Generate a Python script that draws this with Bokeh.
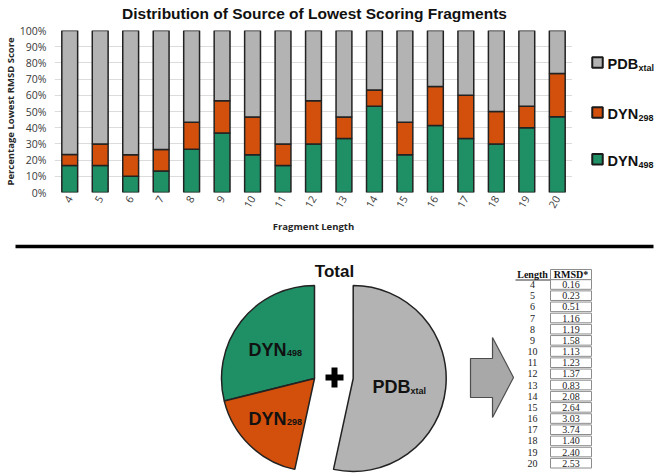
import math
from bokeh.plotting import figure
from bokeh.models import Range1d, FactorRange, FixedTicker, PrintfTickFormatter, ColumnDataSource
from bokeh.layouts import column, row
from bokeh.core.properties import value
from bokeh.embed import file_html
from bokeh.resources import INLINE

# ---------------- data ----------------
lengths = [str(i) for i in range(4, 21)]
dyn498 = [16.7, 16.7, 10.0, 13.3, 26.7, 36.7, 23.3, 16.7, 30.0, 33.3, 53.3, 23.3, 41.4, 33.3, 30.0, 40.0, 46.7]
dyn298 = [6.7, 13.3, 13.3, 13.3, 16.7, 20.0, 23.3, 13.3, 26.7, 13.3, 10.0, 20.0, 24.1, 26.7, 20.0, 13.3, 26.7]
pdb_xtal = [76.6, 70.0, 76.7, 73.4, 56.6, 43.3, 53.4, 70.0, 43.3, 53.4, 36.7, 56.7, 34.5, 40.0, 50.0, 46.7, 26.6]

legend_main = ["PDB", "DYN", "DYN"]
legend_sub = ["xtal", "298", "498"]

pie_main = ["DYN", "DYN", "PDB"]
pie_sub = ["498", "298", "xtal"]
pie_values = [28.9, 17.7, 53.4]  # DYN498, DYN298, PDBxtal (% of total)

table_length = [str(i) for i in range(4, 21)]
table_rmsd = [0.16, 0.23, 0.51, 1.16, 1.19, 1.58, 1.13, 1.23, 1.37, 0.83,
              2.08, 2.64, 3.03, 3.74, 1.40, 2.40, 2.53]

title_text = "Distribution of Source of Lowest Scoring Fragments"

GREEN = "#1f8f66"
ORANGE = "#d2500b"
GRAY = "#b3b3b3"
EDGE = "#222222"
SANS = value("Liberation Sans")
SERIF = value("Liberation Serif")

W = 664
TITLE_H = 22
MID_H = 216
W1 = 572
W_LEG = W - W1
BOT_H = 236
MID_BOTTOM = TITLE_H + MID_H


def blank(width, height, x0, x1, y0, y1):
    f = figure(width=width, height=height, x_range=Range1d(x0, x1), y_range=Range1d(y0, y1),
               output_backend="svg", toolbar_location=None, x_axis_type=None, y_axis_type=None,
               min_border=0, outline_line_color=None, frame_align=False)
    f.grid.visible = False
    return f


# ---------------- title strip ----------------
pt = blank(W, TITLE_H, 0, W, -TITLE_H, 0)
pt.text(x=[314], y=[-12.5], text=[title_text], text_font=SANS, text_font_style="bold",
        text_font_size="15.5px", text_color="#111111", text_align="center",
        text_baseline="alphabetic")

# ---------------- bar chart ----------------
src = ColumnDataSource(dict(length=lengths, dyn498=dyn498, dyn298=dyn298, pdb=pdb_xtal))
p1 = figure(width=W1, height=MID_H, x_range=FactorRange(*lengths, range_padding=0),
            y_range=Range1d(0, 100), output_backend="svg", toolbar_location=None,
            min_border_left=53, min_border_right=0, min_border_top=8, min_border_bottom=46,
            frame_align=False)
p1.vbar_stack(["dyn498", "dyn298", "pdb"], x="length", width=0.52, source=src,
              fill_color=[GREEN, ORANGE, GRAY], line_color=EDGE, line_width=1.5)
p1.outline_line_color = None
p1.xgrid.grid_line_color = None
p1.ygrid.grid_line_color = "#dcdcdc"
p1.yaxis.ticker = FixedTicker(ticks=list(range(0, 101, 10)))
p1.ygrid.ticker = FixedTicker(ticks=list(range(0, 101, 10)))
p1.yaxis.formatter = PrintfTickFormatter(format="%d%%")
for ax in (p1.xaxis[0], p1.yaxis[0]):
    ax.axis_line_color = None
    ax.major_tick_line_color = None
    ax.minor_tick_line_color = None
    ax.major_tick_out = 0
    ax.major_tick_in = 0
    ax.major_label_text_font = "Open Sans"
    ax.major_label_text_font_size = "10.5px"
    ax.major_label_text_color = "#3a3a3a"
    ax.axis_label_text_font = "Open Sans"
    ax.axis_label_text_font_style = "bold"
    ax.axis_label_text_font_size = "9.5px"
    ax.axis_label_text_color = "#262626"
p1.yaxis.axis_label = "Percentage Lowest RMSD Score"
p1.yaxis.major_label_standoff = 8
p1.yaxis.axis_label_standoff = 0
p1.xaxis.axis_label = "Fragment Length"
p1.xaxis.major_label_orientation = math.pi / 3
p1.xaxis.major_label_standoff = 4
p1.xaxis.axis_label_standoff = 6

# ---------------- legend panel ----------------
pl = blank(W_LEG, MID_H, W1, W, -MID_BOTTOM, -TITLE_H)
leg_y = [-62, -112, -158.7]
pl.rect(x=[597] * 3, y=leg_y, width=10.5, height=10.5,
        fill_color=[GRAY, ORANGE, GREEN], line_color="#1a1a1a", line_width=2)
pl.text(x=[607] * 3, y=[v - 1.5 for v in leg_y], text=legend_main, text_font=SANS,
        text_font_style="bold", text_font_size="14.5px", text_color="#111111",
        text_baseline="alphabetic", text_align="left")
pl.text(x=[638, 638, 638], y=[v - 5.5 for v in leg_y], text=legend_sub, text_font=SANS,
        text_font_style="bold", text_font_size="9px", text_color="#111111",
        text_baseline="alphabetic", text_align="left")

# ---------------- bottom panel ----------------
p2 = blank(W, BOT_H, 0, W, -(MID_BOTTOM + BOT_H), -MID_BOTTOM)

# separator
p2.line(x=[15, 653], y=[-246, -246], line_color="#000000", line_width=3.5)

# "Total"
p2.text(x=[334], y=[-271], text=["Total"], text_font=SANS, text_font_style="bold",
        text_font_size="17px", text_color="#111111", text_align="center",
        text_baseline="alphabetic")

# exploded pie
fr = [v / sum(pie_values) for v in pie_values]
cum = [0.0]
for f in fr:
    cum.append(cum[-1] + f)
starts = [math.pi / 2 + 2 * math.pi * cum[i] for i in range(3)]
ends = [math.pi / 2 + 2 * math.pi * cum[i + 1] for i in range(3)]
pie_x = [314, 314, 352.7]
p2.wedge(x=pie_x, y=[-378] * 3, radius=93, start_angle=starts, end_angle=ends,
         fill_color=[GREEN, ORANGE, GRAY], line_color=EDGE, line_width=1.5)

# pie labels
p2.text(x=[248, 248, 372], y=[-349, -418, -386], text=pie_main, text_font=SANS,
        text_font_style="bold", text_font_size="18px", text_color="#111111",
        text_align="left", text_baseline="alphabetic")
p2.text(x=[286.5, 286.5, 410], y=[-352, -421, -390], text=pie_sub, text_font=SANS,
        text_font_style="bold", text_font_size="9px", text_color="#111111",
        text_align="left", text_baseline="alphabetic")

# plus sign
p2.rect(x=[334, 334], y=[-377, -377], width=[18, 6], height=[6, 20],
        fill_color="#000000", line_color=None)

# arrow
p2.patch(x=[470, 492, 492, 513, 492, 492, 470],
         y=[-358, -358, -337, -377, -417, -397, -397],
         fill_color="#a8a8a8", line_color="#4d4d4d", line_width=1.2)

# table
row_y = [-(284 + 11.17 * i) for i in range(len(table_rmsd))]
p2.rect(x=[570.5], y=[-274], width=41, height=10, fill_color="white",
        line_color="#8c8c8c", line_width=1)
p2.line(x=[515, 550], y=[-279.5, -279.5], line_color="#333333", line_width=1)
p2.rect(x=[570.5] * len(row_y), y=row_y, width=41, height=9.6, fill_color="white",
        line_color="#8c8c8c", line_width=1)
p2.text(x=[532, 570.5], y=[-274, -274], text=["Length", "RMSD*"], text_font=SERIF,
        text_font_style="bold", text_font_size="10px", text_color="#111111",
        text_align="center", text_baseline="middle")
p2.text(x=[532] * len(row_y), y=row_y, text=table_length, text_font=SERIF,
        text_font_size="10px", text_color="#222222", text_align="center",
        text_baseline="middle")
p2.text(x=[570.5] * len(row_y), y=row_y, text=["%.2f" % v for v in table_rmsd],
        text_font=SERIF, text_font_size="10px", text_color="#222222",
        text_align="center", text_baseline="middle")

layout = column(pt, row(p1, pl, spacing=0), p2, spacing=0)
open("out.html", "w").write(file_html(layout, INLINE))
